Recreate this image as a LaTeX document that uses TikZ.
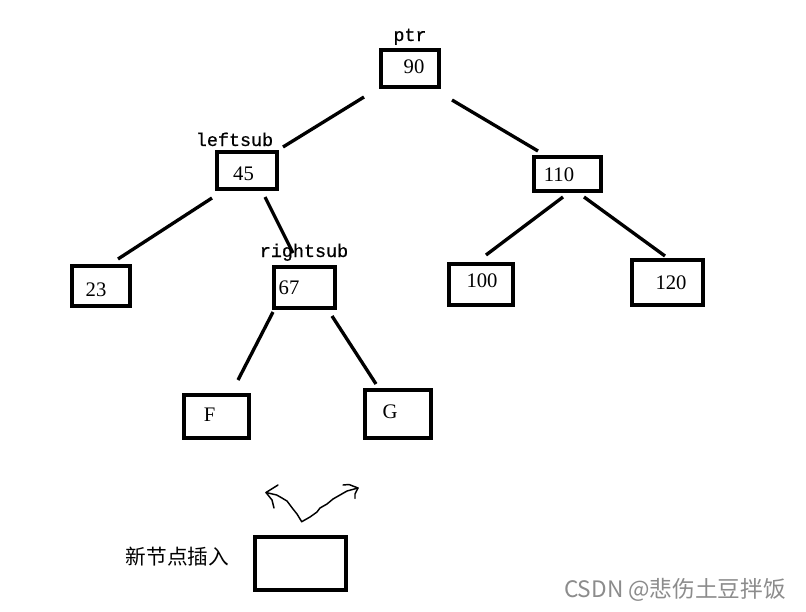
\documentclass[tikz,border=0pt]{standalone}
\usepackage{fontspec}
\setmainfont{Liberation Serif}
\newfontfamily\monof[FakeBold=0.6]{Liberation Mono}
\newfontfamily\cjk{Noto Sans CJK SC}
\begin{document}
\begin{tikzpicture}[x=0.75pt,y=-0.75pt,
  bx/.style n args={2}{draw, line width=3pt, minimum width=#1*0.75pt, minimum height=#2*0.75pt, inner sep=0pt},
  num/.style={font=\fontsize{15.5}{16}\selectfont, inner sep=0pt},
  lbl/.style={font=\monof\fontsize{13.8}{14}\selectfont, inner sep=0pt, anchor=base},
  edge/.style={line width=2.5pt},
  hand/.style={line width=1.1pt, line join=round, line cap=round}]
\path[fill=white] (0,0) rectangle (806,611);
\useasboundingbox (0,0) rectangle (806,611);

% boxes
\node[bx={58}{37}] (b90) at (410,68.5) {};
\node[bx={60}{37}] (b45) at (247,170.5) {};
\node[bx={67}{34}] (b110) at (567.5,174) {};
\node[bx={58}{40}] (b23) at (101,286) {};
\node[bx={61}{41}] (b67) at (304.5,287.5) {};
\node[bx={64}{41}] (b100) at (481,284.5) {};
\node[bx={71}{45}] (b120) at (667.5,282.5) {};
\node[bx={65}{43}] (bF) at (216.5,416.5) {};
\node[bx={66}{48}] (bG) at (398,414) {};
\node[bx={91}{53}] (bnew) at (300.5,563.5) {};

% texts
\node[num] (t90) at (414,67) {90};
\node[num] (t45) at (243.5,174) {45};
\node[num] (t110) at (559,174.5) {110};
\node[num] (t23) at (96,290) {23};
\node[num] (t67) at (289,287.5) {67};
\node[num] (t100) at (482,280.5) {100};
\node[num] (t120) at (671,282.5) {120};
\node[num] (tF) at (209.5,415) {F};
\node[num] (tG) at (390,411.5) {G};

\node[lbl] (lptr) at (410,41) {ptr};
\node[lbl] (lleft) at (234.5,146) {leftsub};
\node[lbl] (lright) at (304,257) {rightsub};

\node[font=\cjk\fontsize{15.5}{16}\selectfont, inner sep=0pt] (lnew) at (177.5,557) {新节点插入};
\node[font=\cjk\fontsize{17}{18}\selectfont, text=black!45, inner sep=0pt] (wm) at (675,590) {CSDN @悲伤土豆拌饭};

% connector end points
\coordinate (a1) at (364,97);  \coordinate (a2) at (283,147);
\coordinate (b1) at (452,100); \coordinate (b2) at (538,151);
\coordinate (c1) at (212,198); \coordinate (c2) at (118,259);
\coordinate (d1) at (265,197); \coordinate (d2) at (293,253);
\coordinate (e1) at (563,197); \coordinate (e2) at (486,255);
\coordinate (f1) at (584,197); \coordinate (f2) at (665,256);
\coordinate (g1) at (273,312); \coordinate (g2) at (238,380);
\coordinate (h1) at (332,316); \coordinate (h2) at (376,384);
\draw[edge] (a1) -- (a2);
\draw[edge] (b1) -- (b2);
\draw[edge] (c1) -- (c2);
\draw[edge] (d1) -- (d2);
\draw[edge] (e1) -- (e2);
\draw[edge] (f1) -- (f2);
\draw[edge] (g1) -- (g2);
\draw[edge] (h1) -- (h2);

% hand-drawn arrows
\coordinate (o) at (301.7,521.7);
\coordinate (lt) at (266,492.5);
\coordinate (rt) at (358,488);
\draw[hand] (o) -- (297,514) -- (293,509) -- (287,501) -- (282,498) -- (276.7,495) -- (lt);
\draw[hand] (278,485) -- (lt) -- (272,500) -- (274,508);
\draw[hand] (o) -- (310,517) -- (317,512) -- (320,508) -- (327,504) -- (333,499) -- (340,495) -- (347,491) -- (rt);
\draw[hand] (343,485) -- (349,484.5) -- (rt) -- (355,494) -- (355,498.5);
\end{tikzpicture}
\end{document}
